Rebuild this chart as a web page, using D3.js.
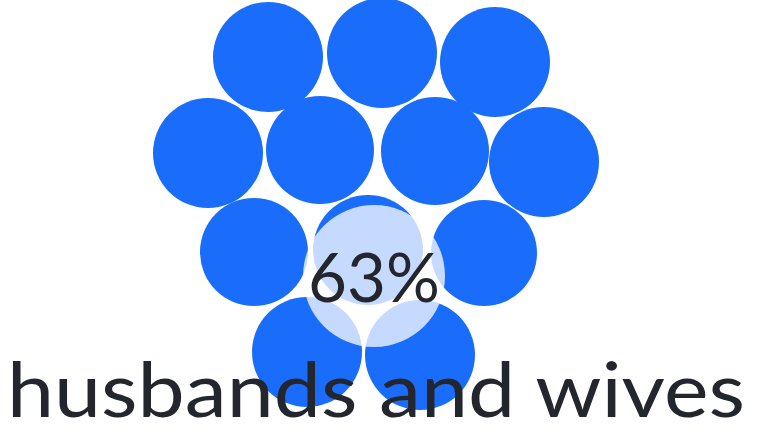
<!DOCTYPE html>
<html>
<head>
<meta charset="utf-8">
<script src="https://cdn.jsdelivr.net/npm/d3@7"></script>
<style>
  html, body { margin: 0; padding: 0; background: #ffffff; }
  svg { display: block; }
</style>
</head>
<body>
<svg id="chart" width="769" height="433"></svg>
<script>
// ---- data ----
const nodeIds = ["n1","n2","n3","n4","n5","n6","n7","n8","n9","n10","n11","n12"];
const nodeX   = [-106,   8, 121, -166, -54,  61, 170, -120, 110, -67,  46,  -6];
const nodeY   = [-219,-223,-214, -123,-126,-125,-114,  -24, -23,  76,  79, -26];
const nodeR   = [  55,  55,  55,   55,  54,  54,  55,   54,  53,  55,  55,  55];
const highlightId = "n12";
const highlightX = 0, highlightY = 0, highlightR = 71;
const valueLabel = "63%";
const categoryLabel = "husbands and wives";

// ---- drawing ----
const W = 769, H = 433;
const svg = d3.select("#chart");
const x = d3.scaleLinear().domain([-374, 395]).range([0, W]);
const y = d3.scaleLinear().domain([-276, 157]).range([0, H]);
const rs = d3.scaleLinear().domain([0, 1]).range([0, 1]);

const nodes = nodeIds.map((id, i) => ({ id, x: nodeX[i], y: nodeY[i], r: nodeR[i] }));

svg.append("g").selectAll("circle")
  .data(nodes)
  .join("circle")
  .attr("cx", d => x(d.x))
  .attr("cy", d => y(d.y))
  .attr("r", d => rs(d.r))
  .attr("fill", "#1a6dfa");

svg.append("circle")
  .attr("cx", x(highlightX))
  .attr("cy", y(highlightY))
  .attr("r", rs(highlightR))
  .attr("fill", "#ffffff")
  .attr("fill-opacity", 0.75);

const font = "Lato, 'Open Sans', sans-serif";

svg.append("text")
  .attr("x", x(highlightX))
  .attr("y", y(highlightY) + 26)
  .attr("text-anchor", "middle")
  .attr("font-family", font)
  .attr("font-size", 68)
  .attr("fill", "#24262e")
  .attr("textLength", 132)
  .attr("lengthAdjust", "spacingAndGlyphs")
  .text(valueLabel);

svg.append("text")
  .attr("x", 7)
  .attr("y", 417)
  .attr("font-family", font)
  .attr("font-size", 76)
  .attr("fill", "#24262e")
  .attr("textLength", 738)
  .attr("lengthAdjust", "spacingAndGlyphs")
  .text(categoryLabel);
</script>
</body>
</html>
